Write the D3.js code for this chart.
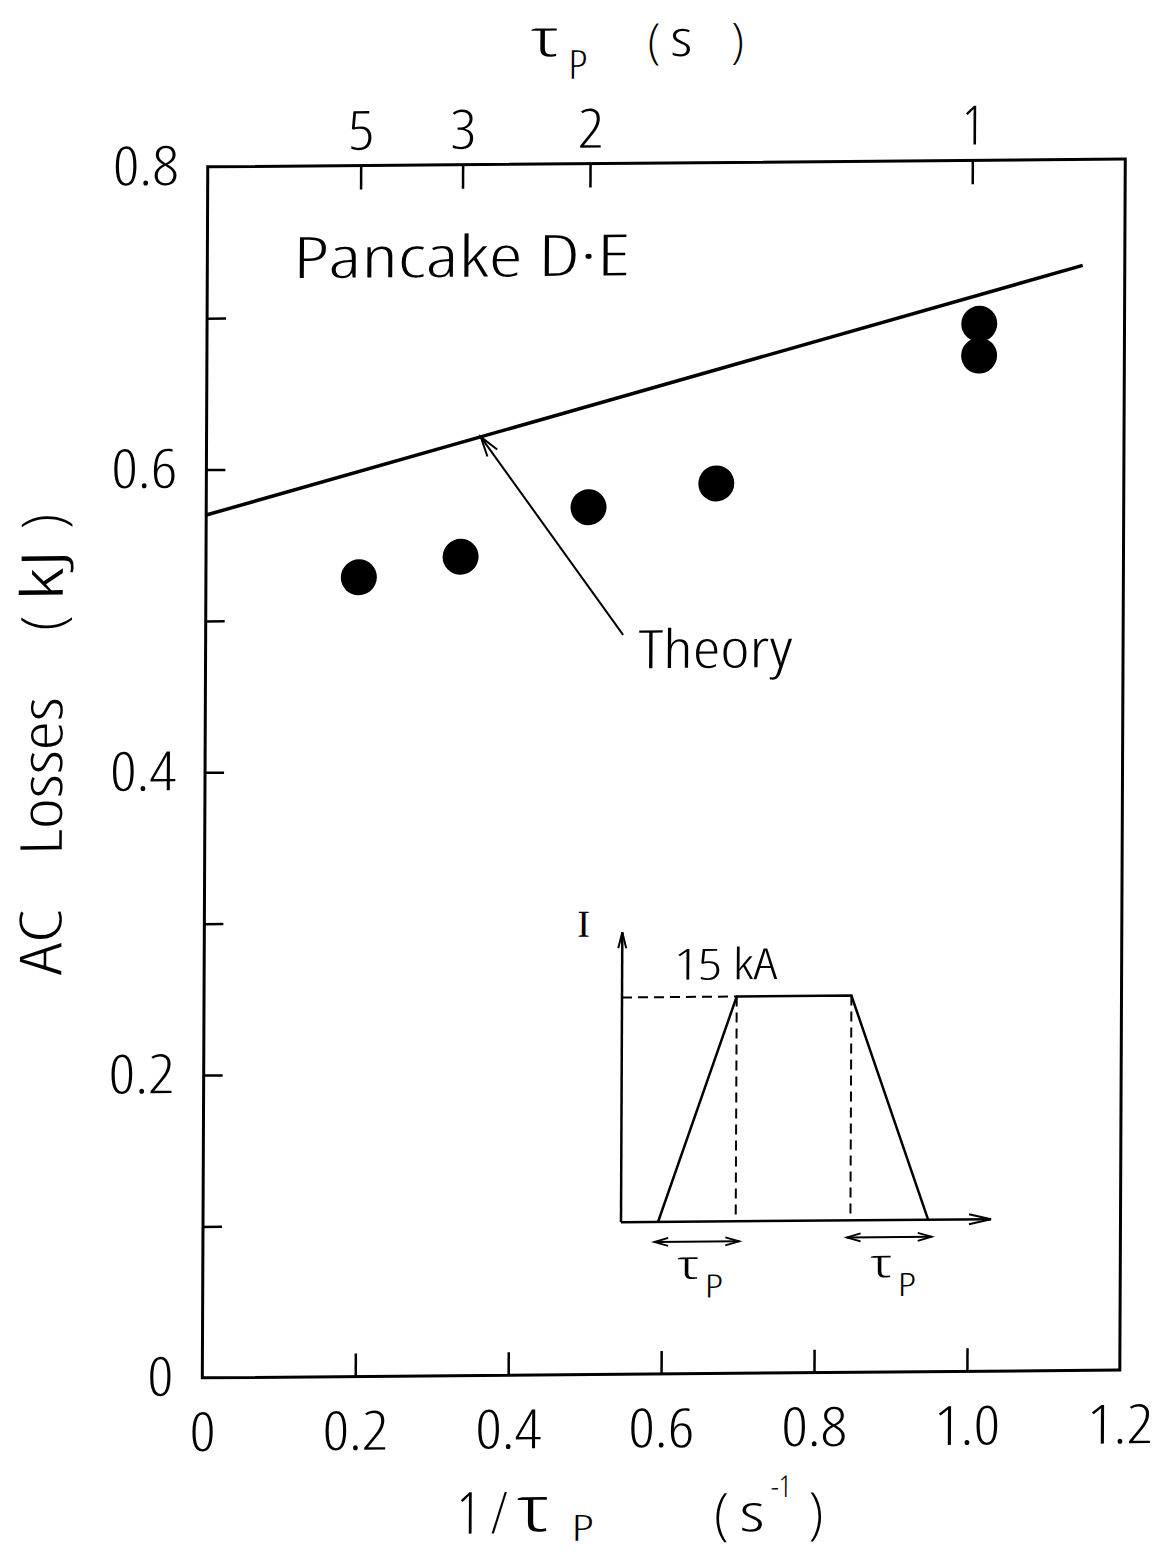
<!DOCTYPE html>
<html>
<head>
<meta charset="utf-8">
<script src="https://cdn.jsdelivr.net/npm/d3@7"></script>
<style>
  html, body { margin: 0; padding: 0; background: #fff; }
  svg { display: block; }
  text { font-family: "Open Sans", "DejaVu Sans Condensed", sans-serif; font-stretch: 75%; font-weight: 300; fill: #000; }
</style>
</head>
<body>
<svg id="chart" width="1156" height="1552"></svg>
<script>
// Measured AC losses (kJ) against inverse pulse time 1/tau_p (1/s)
const invTau = [0.2, 0.333, 0.5, 0.667, 1.01, 1.01];
const losses = [0.528, 0.541, 0.573, 0.588, 0.692, 0.671];

// Theory line end points
const theoryX = [0, 1.145];
const theoryY = [0.570, 0.730];

// Bottom axis
const xTickValues = [0.2, 0.4, 0.6, 0.8, 1.0];
const xLabelValues = [0, 0.2, 0.4, 0.6, 0.8, 1.0, 1.2];
const xLabels = ["0", "0.2", "0.4", "0.6", "0.8", "1.0", "1.2"];

// Left axis
const yTickValues = [0.1, 0.2, 0.3, 0.4, 0.5, 0.6, 0.7];
const yLabelValues = [0, 0.2, 0.4, 0.6, 0.8];
const yLabels = ["0", "0.2", "0.4", "0.6", "0.8"];

// Top axis: pulse time tau_p (s)
const tauTicks = [5, 3, 2, 1];

// Inset: trapezoidal current pulse (time units, current relative to 15 kA)
const waveT = [1.0, 3.1, 6.2, 8.3];
const waveI = [0, 1, 1, 0];

const svg = d3.select("#chart");
// the whole figure sits on a slightly sheared page
const page = svg.append("g")
  .attr("transform", "matrix(1,-0.0085,-0.0045,1,3.5,5.6)");

const plotLeft = 205, plotRight = 1122.5, plotTop = 163, plotBottom = 1374;
const x = d3.scaleLinear().domain([0, 1.2]).range([plotLeft, plotRight]);
const y = d3.scaleLinear().domain([0, 0.8]).range([plotBottom, plotTop]);

// frame
page.append("rect")
  .attr("x", plotLeft).attr("y", plotTop)
  .attr("width", plotRight - plotLeft).attr("height", plotBottom - plotTop)
  .attr("fill", "none").attr("stroke", "#000").attr("stroke-width", 3);

// widen the narrow glyphs of number labels (digits ~26px, point ~14px)
function labelWidth(s) {
  if (s === "1") return null;
  let w = 0;
  for (const ch of s) w += (ch === ".") ? 14 : 26;
  return w;
}

function styleAxis(g, size) {
  g.select(".domain").remove();
  g.attr("font-family", null).attr("font-size", null);
  g.selectAll(".tick line").attr("stroke", "#000").attr("stroke-width", 2.5);
  g.selectAll("text").attr("font-size", size).attr("fill", "#000")
    .each(function () {
      const s = d3.select(this).text();
      const w = labelWidth(s);
      if (s && w) d3.select(this).attr("textLength", w).attr("lengthAdjust", "spacingAndGlyphs");
    });
}

// bottom ticks (inward) and labels
page.append("g").attr("transform", `translate(0,${plotBottom})`)
  .call(d3.axisBottom(x).tickValues(xTickValues).tickSize(-23).tickFormat(""))
  .call(g => styleAxis(g, 54));
page.append("g").attr("transform", `translate(0,${plotBottom})`)
  .call(d3.axisBottom(x).tickValues(xLabelValues).tickSize(0).tickPadding(35)
    .tickFormat((d, i) => xLabels[i]))
  .call(g => styleAxis(g, 54));

// left ticks (inward) and labels
page.append("g").attr("transform", `translate(${plotLeft},0)`)
  .call(d3.axisLeft(y).tickValues(yTickValues).tickSize(-19).tickFormat(""))
  .call(g => styleAxis(g, 54));
page.append("g").attr("transform", `translate(${plotLeft},0)`)
  .call(d3.axisLeft(y).tickValues(yLabelValues).tickSize(0).tickPadding(29)
    .tickFormat((d, i) => yLabels[i]))
  .call(g => styleAxis(g, 54));

// top ticks (inward) for tau_p
page.append("g").attr("transform", `translate(0,${plotTop})`)
  .call(d3.axisTop(x).tickValues(tauTicks.map(t => 1 / t)).tickSize(-24).tickFormat(""))
  .call(g => styleAxis(g, 54));
page.append("g").attr("transform", `translate(0,${plotTop})`)
  .call(d3.axisTop(x).tickValues(tauTicks.map(t => 1 / t)).tickSize(0).tickPadding(16)
    .tickFormat((d, i) => String(tauTicks[i])))
  .call(g => styleAxis(g, 54));

// theory line
const line = d3.line().x(d => x(d[0])).y(d => y(d[1]));
page.append("path")
  .datum(theoryX.map((v, i) => [v, theoryY[i]]))
  .attr("d", line)
  .attr("fill", "none").attr("stroke", "#000").attr("stroke-width", 3.5);

// measured points
page.append("g").selectAll("circle")
  .data(invTau.map((v, i) => [v, losses[i]]))
  .join("circle")
  .attr("cx", d => x(d[0])).attr("cy", d => y(d[1]))
  .attr("r", 18).attr("fill", "#000");

// "Theory" pointer arrow
const slope = (theoryY[1] - theoryY[0]) / (theoryX[1] - theoryX[0]);
const tipV = [0.3586, theoryY[0] + 0.3586 * slope];
const tailV = [0.546, 0.4885];
const tip = [x(tipV[0]), y(tipV[1])], tail = [x(tailV[0]), y(tailV[1])];
page.append("line")
  .attr("x1", tail[0]).attr("y1", tail[1]).attr("x2", tip[0]).attr("y2", tip[1])
  .attr("stroke", "#000").attr("stroke-width", 2);
function arrowHead(g, tipPt, fromPt, len, half, w) {
  const ang = Math.atan2(tipPt[1] - fromPt[1], tipPt[0] - fromPt[0]);
  const bx = tipPt[0] - len * Math.cos(ang), by = tipPt[1] - len * Math.sin(ang);
  const nx = -Math.sin(ang) * half, ny = Math.cos(ang) * half;
  g.append("path")
    .attr("d", `M${bx + nx},${by + ny}L${tipPt[0]},${tipPt[1]}L${bx - nx},${by - ny}`)
    .attr("fill", "none").attr("stroke", "#000").attr("stroke-width", w);
}
arrowHead(page, tip, tail, 20, 6, 2);

// text helper: placed text, optionally stretched to a given width
function label(g, str, px, py, size, width) {
  const el = g.append("text").attr("x", px).attr("y", py).attr("font-size", size).text(str);
  if (width) el.attr("textLength", width).attr("lengthAdjust", "spacingAndGlyphs");
  return el;
}

// annotations
label(page, "Pancake D·E", 291, 275, 57, 337);
label(page, "Theory", 638, 668, 53, 154);

// top axis title: tau_p (s)
label(page, "τ", 528, 55, 52, 27);
label(page, "P", 565, 78, 40, 19);
label(page, "(", 644, 58, 48);
label(page, "s", 667, 56, 50, 22);
label(page, ")", 728, 58, 48);

// bottom axis title: 1 / tau_p (s^-1)
label(page, "1", 460, 1532, 58);
label(page, "/", 494, 1532, 58, 17);
label(page, "τ", 521, 1530, 64, 31);
label(page, "P", 575, 1540, 36, 22);
label(page, "(", 717, 1534, 56);
label(page, "s", 743, 1532, 52, 25);
label(page, "-1", 774, 1498, 30, 20);
label(page, ")", 812, 1534, 56);

// left axis title: AC Losses (kJ)
const yt = page.append("g").attr("transform", "translate(62,0) rotate(-90)");
label(yt, "AC", -970, 0, 58, 66);
label(yt, "Losses", -850, 0, 58, 158);
label(yt, "(", -626, 0, 58);
label(yt, "kJ", -596, 0, 58, 52);
label(yt, ")", -524, 0, 58);

// ---- inset: current waveform ----
const inset = page.append("g");
const t = d3.scaleLinear().domain([0, 10]).range([623, 993]);
const cur = d3.scaleLinear().domain([0, 1.29]).range([1222, 932]);

// axes
inset.append("line").attr("x1", t(0)).attr("y1", cur(0)).attr("x2", t(0)).attr("y2", cur(1.29))
  .attr("stroke", "#000").attr("stroke-width", 2.5);
inset.append("line").attr("x1", t(0)).attr("y1", cur(0)).attr("x2", t(10)).attr("y2", cur(0))
  .attr("stroke", "#000").attr("stroke-width", 2.5);
arrowHead(inset, [t(0), cur(1.29)], [t(0), cur(0)], 16, 4, 2);
arrowHead(inset, [t(10), cur(0)], [t(0), cur(0)], 22, 5, 2);

// waveform
const wave = d3.line().x(d => t(d[0])).y(d => cur(d[1]));
inset.append("path")
  .datum(waveT.map((v, i) => [v, waveI[i]]))
  .attr("d", wave)
  .attr("fill", "none").attr("stroke", "#000").attr("stroke-width", 2.5);

// dashed guides
const dash = "10,6";
inset.append("line").attr("x1", t(0)).attr("y1", cur(1)).attr("x2", t(waveT[1])).attr("y2", cur(1))
  .attr("stroke", "#000").attr("stroke-width", 2).attr("stroke-dasharray", dash);
[waveT[1], waveT[2]].forEach(v => {
  inset.append("line").attr("x1", t(v)).attr("y1", cur(1)).attr("x2", t(v)).attr("y2", cur(0))
    .attr("stroke", "#000").attr("stroke-width", 2).attr("stroke-dasharray", dash);
});

// tau_p spans
function span(a, b, yy) {
  inset.append("line").attr("x1", t(a)).attr("y1", yy).attr("x2", t(b)).attr("y2", yy)
    .attr("stroke", "#000").attr("stroke-width", 2);
  arrowHead(inset, [t(a), yy], [t(b), yy], 14, 4, 1.8);
  arrowHead(inset, [t(b), yy], [t(a), yy], 14, 4, 1.8);
}
span(waveT[0] - 0.1, waveT[1] + 0.1, 1242);
span(waveT[2] - 0.1, waveT[3] + 0.1, 1239);

label(inset, "I", 578, 936, 38)
  .style("font-family", "'Liberation Serif', serif").style("font-weight", 400)
  .style("font-stretch", "normal");
label(inset, "15 kA", 675, 980, 43, 103);
label(inset, "τ", 680, 1279, 40, 21);
label(inset, "P", 707, 1298, 32, 18);
label(inset, "τ", 873, 1279, 40, 21);
label(inset, "P", 900, 1298, 32, 18);
</script>
</body>
</html>
